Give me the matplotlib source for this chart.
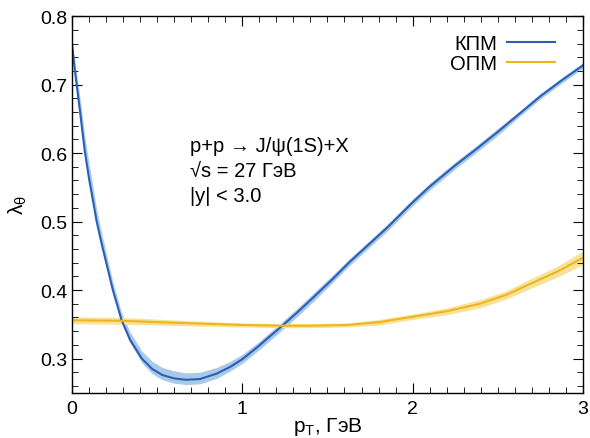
import numpy as np
import matplotlib.pyplot as plt
from matplotlib.ticker import MultipleLocator

plt.rcParams['font.family'] = ['Liberation Sans', 'DejaVu Sans']

# KPM curve (blue) with asymmetric band
kpm_pt = [0.0, 0.015, 0.03, 0.05, 0.075, 0.10, 0.125, 0.145, 0.17, 0.20, 0.24,
          0.29, 0.34, 0.41, 0.47, 0.53, 0.60, 0.67, 0.75, 0.85, 0.93, 1.00,
          1.09, 1.16, 1.24, 1.33, 1.42, 1.53, 1.63, 1.74, 1.85, 2.00, 2.10,
          2.25, 2.38, 2.50, 2.63, 2.75, 2.88, 3.00]
kpm_val = [0.760, 0.725, 0.695, 0.655, 0.603, 0.563, 0.528, 0.500, 0.472, 0.441,
           0.400, 0.357, 0.328, 0.300, 0.285, 0.276, 0.271, 0.269, 0.270, 0.278,
           0.288, 0.299, 0.317, 0.332, 0.349, 0.369, 0.390, 0.416, 0.441, 0.466,
           0.491, 0.528, 0.551, 0.582, 0.607, 0.631, 0.658, 0.683, 0.707, 0.728]
kpm_hi = [0.004, 0.010, 0.015, 0.020, 0.022, 0.022, 0.020, 0.018, 0.016, 0.014,
          0.012, 0.011, 0.011, 0.011, 0.011, 0.011, 0.011, 0.010, 0.010, 0.009,
          0.008, 0.007, 0.006, 0.006, 0.006, 0.006, 0.006, 0.006, 0.005, 0.005,
          0.005, 0.005, 0.005, 0.005, 0.005, 0.005, 0.004, 0.004, 0.004, 0.004]
kpm_lo = [0.002, 0.003, 0.003, 0.004, 0.004, 0.004, 0.004, 0.004, 0.004, 0.004,
          0.004, 0.005, 0.005, 0.006, 0.007, 0.007, 0.007, 0.007, 0.007, 0.007,
          0.006, 0.006, 0.006, 0.006, 0.006, 0.006, 0.006, 0.005, 0.005, 0.005,
          0.005, 0.005, 0.005, 0.005, 0.005, 0.005, 0.004, 0.004, 0.004, 0.004]

# OPM curve (yellow)
opm_pt = [0.0, 0.30, 0.63, 1.00, 1.22, 1.40, 1.615, 1.80, 2.00, 2.20, 2.395,
          2.55, 2.69, 2.85, 3.00]
opm_val = [0.356, 0.355, 0.352, 0.349, 0.348, 0.348, 0.349, 0.353, 0.361, 0.369,
           0.380, 0.393, 0.409, 0.427, 0.447]
opm_err = [0.005, 0.005, 0.004, 0.003, 0.003, 0.003, 0.003, 0.004, 0.004, 0.005,
           0.006, 0.006, 0.007, 0.008, 0.010]

blue, blue_band = '#2b5fb4', '#a9c9e9'
yellow, yellow_band = '#f0b51e', '#f6e39a'

fig = plt.figure(figsize=(5.9, 4.39), dpi=100)
ax = fig.add_axes([0.122, 0.103, 0.866, 0.858])

kv = np.array(kpm_val)
ov, oe = np.array(opm_val), np.array(opm_err)

ax.fill_between(kpm_pt, kv - np.array(kpm_lo), kv + np.array(kpm_hi),
                color=blue_band, lw=0)
ax.fill_between(opm_pt, ov - oe, ov + oe, color=yellow_band, lw=0)
ax.plot(kpm_pt, kpm_val, color=blue, lw=1.5, label='КПМ')
ax.plot(opm_pt, opm_val, color=yellow, lw=1.5, label='ОПМ')

ax.set_xlim(0, 3)
ax.set_ylim(0.25, 0.8)
ax.xaxis.set_major_locator(MultipleLocator(1))
ax.xaxis.set_minor_locator(MultipleLocator(0.1))
ax.yaxis.set_major_locator(MultipleLocator(0.1))
ax.yaxis.set_minor_locator(MultipleLocator(0.02))
ax.tick_params(which='both', direction='in', top=True, right=True, labelsize=14)
ax.tick_params(which='major', length=7)
ax.tick_params(which='minor', length=4)
ax.tick_params(axis='x', pad=5)
for s in ax.spines.values():
    s.set_linewidth(1.0)

ax.set_xlabel('p$_\\mathregular{T}$, ГэВ', fontsize=15, labelpad=-1)
ax.set_ylabel('λ$_\\mathregular{θ}$', fontsize=15, labelpad=8)

ax.text(0.231, 0.589, 'p+p → J/ψ(1S)+X\n√s = 27 ГэВ\n|y| < 3.0',
        transform=ax.transAxes, fontsize=14.5, va='center', linespacing=1.4)

leg = ax.legend(loc='upper right', bbox_to_anchor=(0.962, 0.975), frameon=False,
                fontsize=14.5, markerfirst=False, handlelength=2.4,
                labelspacing=0.05, handletextpad=0.5, borderaxespad=0)

fig.savefig('out.png', dpi=100)
